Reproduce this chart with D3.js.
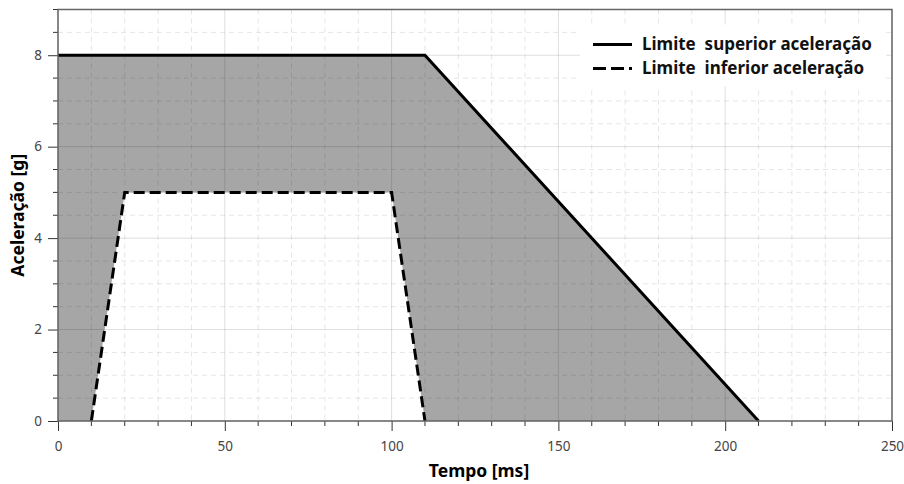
<!DOCTYPE html>
<html>
<head>
<meta charset="utf-8">
<script src="https://cdn.jsdelivr.net/npm/d3@7"></script>
<style>
body { margin: 0; background: #fff; }
svg { font-family: "Noto Sans", "Open Sans", sans-serif; }
</style>
</head>
<body>
<svg id="chart" width="904" height="484"></svg>
<script>
var W = 904, H = 484;
var margin = {top: 9.5, right: 12, bottom: 63, left: 58};

// data
var upperT = [0, 110, 210];
var upperG = [8, 8, 0];
var lowerT = [10, 20, 100, 110];
var lowerG = [0, 5, 5, 0];
var seriesNames = ["Limite  superior aceleração", "Limite  inferior aceleração"];
var xTicks = [0, 50, 100, 150, 200, 250];
var yTicks = [0, 2, 4, 6, 8];

var upper = upperT.map(function(t, i) { return [t, upperG[i]]; });
var lower = lowerT.map(function(t, i) { return [t, lowerG[i]]; });

var svg = d3.select("#chart");
var iw = W - margin.left - margin.right;
var ih = H - margin.top - margin.bottom;

var x = d3.scaleLinear().domain([0, 250]).range([0, iw]);
var y = d3.scaleLinear().domain([0, 9]).range([ih, 0]);

var g = svg.append("g").attr("transform", "translate(" + margin.left + "," + margin.top + ")");

var line = d3.line().x(function(d) { return x(d[0]); }).y(function(d) { return y(d[1]); });

// filled band between upper and lower limits
var band = upper.concat(lower.slice().reverse()).concat([[upperT[0], 0]]);
g.append("path")
	.attr("d", line(band) + "Z")
	.attr("fill", "#a6a6a6");

// minor grid
var xMinor = d3.range(0, 251, 10).filter(function(v) { return v % 50 != 0; });
var yMinor = d3.range(0, 9.01, 0.5).filter(function(v) { return v % 2 != 0; });

g.append("g").selectAll("line").data(xMinor).enter().append("line")
	.attr("x1", d => x(d)).attr("x2", d => x(d))
	.attr("y1", 0).attr("y2", ih)
	.attr("stroke", "rgba(0,0,0,0.1)").attr("stroke-dasharray", "5,4");

g.append("g").selectAll("line").data(yMinor).enter().append("line")
	.attr("y1", d => y(d)).attr("y2", d => y(d))
	.attr("x1", 0).attr("x2", iw)
	.attr("stroke", "rgba(0,0,0,0.1)").attr("stroke-dasharray", "5,4");

// major grid
g.append("g").selectAll("line").data(xTicks).enter().append("line")
	.attr("x1", d => x(d)).attr("x2", d => x(d))
	.attr("y1", 0).attr("y2", ih)
	.attr("stroke", "rgba(0,0,0,0.13)");

g.append("g").selectAll("line").data(yTicks).enter().append("line")
	.attr("y1", d => y(d)).attr("y2", d => y(d))
	.attr("x1", 0).attr("x2", iw)
	.attr("stroke", "rgba(0,0,0,0.13)");

// legend background
var legX = 522, legY = 15;
g.append("rect")
	.attr("x", legX).attr("y", legY)
	.attr("width", 306).attr("height", 62)
	.attr("fill", "#fff");

// lines
g.append("path")
	.attr("d", line(upper))
	.attr("fill", "none").attr("stroke", "#000").attr("stroke-width", 3);

g.append("path")
	.attr("d", line(lower))
	.attr("fill", "none").attr("stroke", "#000").attr("stroke-width", 3)
	.attr("stroke-dasharray", "11,5");

// axes
var xAxis = d3.axisBottom(x).tickValues(xTicks).tickSize(10).tickPadding(10);
var yAxis = d3.axisLeft(y).tickValues(yTicks).tickSize(10).tickPadding(6);

var gx = g.append("g").attr("transform", "translate(0," + ih + ")").call(xAxis);
var gy = g.append("g").call(yAxis);

// minor ticks
gx.selectAll(".minor").data(xMinor).enter().append("line")
	.attr("x1", d => x(d)).attr("x2", d => x(d))
	.attr("y1", 0).attr("y2", 5)
	.attr("stroke", "#333");
gy.selectAll(".minor").data(yMinor).enter().append("line")
	.attr("y1", d => y(d)).attr("y2", d => y(d))
	.attr("x1", 0).attr("x2", -5)
	.attr("stroke", "#333");

[gx, gy].forEach(function(a) {
	a.select(".domain").remove();
	a.selectAll(".tick line").attr("stroke", "#333");
	a.selectAll(".tick text").attr("fill", "#444").style("font-size", "13.5px")
		.style("font-family", "'Noto Sans', 'Open Sans', sans-serif");
});

// frame
g.append("rect")
	.attr("x", 0).attr("y", 0).attr("width", iw).attr("height", ih)
	.attr("fill", "none").attr("stroke", "#666").attr("stroke-width", 1.5);

// legend items
seriesNames.forEach(function(name, i) {
	var ly = legY + 20 + i * 24;
	g.append("line")
		.attr("x1", legX + 13).attr("x2", legX + 52)
		.attr("y1", ly).attr("y2", ly)
		.attr("stroke", "#000").attr("stroke-width", 3)
		.attr("stroke-dasharray", i == 1 ? "13,5" : null);
	g.append("text")
		.attr("x", legX + 62).attr("y", ly)
		.attr("dy", "0.35em")
		.style("font-size", "17px").style("font-weight", "bold")
		.style("white-space", "pre")
		.attr("fill", "#111")
		.text(name);
});

// axis titles
svg.append("text")
	.attr("x", margin.left + iw / 2 + 4).attr("y", 477)
	.attr("text-anchor", "middle")
	.style("font-size", "17.5px").style("font-weight", "bold")
	.text("Tempo [ms]");

svg.append("text")
	.attr("transform", "translate(24," + (margin.top + ih / 2) + ") rotate(-90)")
	.attr("text-anchor", "middle")
	.style("font-size", "17.5px").style("font-weight", "bold")
	.text("Aceleração [g]");
</script>
</body>
</html>
